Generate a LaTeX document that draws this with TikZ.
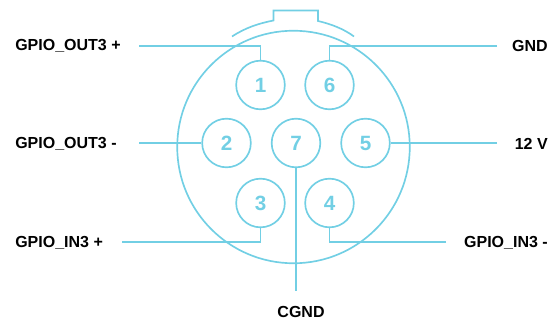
\documentclass[tikz,border=0pt]{standalone}
\usepackage{fontspec}
\setmainfont{Liberation Sans}
\definecolor{pinblue}{HTML}{72CFE4}
\tikzset{
  x=0.75pt,y=-0.75pt,
  wire/.style={draw=pinblue,line width=1.25pt},
  pin/.style={circle,draw=pinblue,line width=1.25pt,minimum size=36.5pt,inner sep=0pt,text=pinblue,font=\bfseries\fontsize{15.5pt}{16pt}\selectfont},
  lab/.style={inner sep=0pt,text=black,font=\bfseries\fontsize{12pt}{14pt}\selectfont}
}
\begin{document}
\begin{tikzpicture}
\useasboundingbox (0,0) rectangle (557,320);
\node[pin] (p1) at (260.5,85) {1};
\node[pin] (p6) at (329.5,85) {6};
\node[pin] (p2) at (226.5,143) {2};
\node[pin] (p7) at (296,143) {7};
\node[pin] (p5) at (365.5,143) {5};
\node[pin] (p3) at (260.5,203) {3};
\node[pin] (p4) at (329.5,203) {4};
\coordinate (shell) at (293.5,147);
\draw[wire] (shell) circle [radius=87.2pt];
\draw[wire] (232,36.5) .. controls (245,28) and (258,23.5) .. (273.5,20.5) -- (273.5,10.5) -- (318,10.5) -- (318,21) .. controls (331,24) and (344,29) .. (354,36.5);
\node[lab,anchor=west] (l1) at (15,46) {GPIO\_OUT3 +};
\node[lab,anchor=west] (l2) at (15,144) {GPIO\_OUT3 -};
\node[lab,anchor=west] (l3) at (15,243) {GPIO\_IN3 +};
\node[lab,anchor=east] (l6) at (548,46) {GND};
\node[lab,anchor=east] (l5) at (548,144) {12 V};
\node[lab,anchor=east] (l4) at (548,243) {GPIO\_IN3 -};
\node[lab] (l7) at (301,312) {CGND};
\coordinate (e1) at (139,46);
\coordinate (e2) at (139,143);
\coordinate (e3) at (122,242);
\coordinate (e6) at (497,46);
\coordinate (e5) at (497,143);
\coordinate (e4) at (446,242);
\coordinate (e7) at (296,291);
\draw[wire] (e1) -| (p1.north);
\draw[wire] (e6) -| (p6.north);
\draw[wire] (e2) -- (p2.west);
\draw[wire] (e5) -- (p5.east);
\draw[wire] (e3) -| (p3.south);
\draw[wire] (e4) -| (p4.south);
\draw[wire] (p7.south) -- (e7);
\end{tikzpicture}
\end{document}
